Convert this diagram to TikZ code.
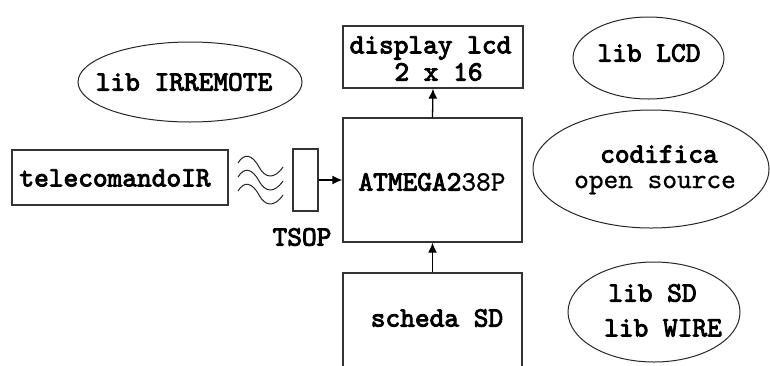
\documentclass[tikz,border=0pt]{standalone}
\usepackage{fontspec}
\newfontfamily\courbf{lmmono10-regular.otf}[FakeBold=3.2]
\newfontfamily\courmd{lmmono10-regular.otf}[FakeBold=0.8]
\usetikzlibrary{shapes.geometric,arrows.meta}
\begin{document}
\begin{tikzpicture}[x=1pt,y=-1pt,
  txt/.style={font=\fontsize{28}{28}\selectfont\courbf, inner sep=0pt, text=black},
  txtmd/.style={font=\fontsize{28}{28}\selectfont\courmd, inner sep=0pt, text=black},
  box/.style={draw=black!80, line width=1.3pt, rectangle, inner sep=0pt},
  oval/.style={draw=black!85, line width=1pt, ellipse, inner sep=0pt},
  wave/.style={draw=black!85, line width=1pt},
  conn/.style={draw=black, line width=1.3pt, -{Latex[length=10pt,width=9pt]}}]
\useasboundingbox (0,0) rectangle (770,365);
\clip (0,0) rectangle (770,365);
% boxes
\node[box, minimum width=216, minimum height=55] (tele) at (120,177.5) {};
\node[txt] (teletxt) at (115,178) {telecomandoIR};
\node[box, minimum width=25, minimum height=62] (tsop) at (305.5,180) {};
\node[txt] (tsoptxt) at (302,237) {TSOP};
\node[box, minimum width=179, minimum height=124] (atmega) at (432.5,180) {};
\node[txt] (atmegatxt) at (432,182) {ATMEGA2{\courmd 38P}};
\node[box, minimum width=180, minimum height=62] (display) at (433,57) {};
\node[txt] (displaytxt1) at (430.5,48) {display lcd};
\node[txt] (displaytxt2) at (438.5,72) {2 x 16};
\node[box, minimum width=179, minimum height=99] (scheda) at (432.5,322.5) {};
\node[txt] (schedatxt) at (437,318) {scheda SD};
% ellipses
\node[oval, minimum width=224, minimum height=80] (irlib) at (190,82) {};
\node[txt] (irlibtxt) at (184,82) {lib IRREMOTE};
\node[oval, minimum width=151, minimum height=82] (lcdlib) at (648.5,58) {};
\node[txt] (lcdlibtxt) at (649,53) {lib LCD};
\node[oval, minimum width=236, minimum height=118] (cod) at (651,169) {};
\node[txt] (codtxt1) at (659,154) {codifica};
\node[txtmd] (codtxt2) at (655,185) {open source};
\node[oval, minimum width=172, minimum height=100] (sdlib) at (654,312) {};
\node[txt] (sdlibtxt1) at (652.5,293) {lib SD};
\node[txt] (sdlibtxt2) at (663,328) {lib WIRE};
% waves
\foreach \d in {0,14,28}{
  \draw[wave] (238,163+\d) .. controls (244,153+\d) and (252,154+\d) .. (259,167+\d)
    .. controls (265,178+\d) and (274,180+\d) .. (283,167+\d);
}
% connectors
\draw[conn] (tsop.east) -- (atmega.west);
\draw[conn] (atmega.north) -- (display.south);
\draw[conn] (scheda.north) -- (atmega.south);
\end{tikzpicture}
\end{document}
